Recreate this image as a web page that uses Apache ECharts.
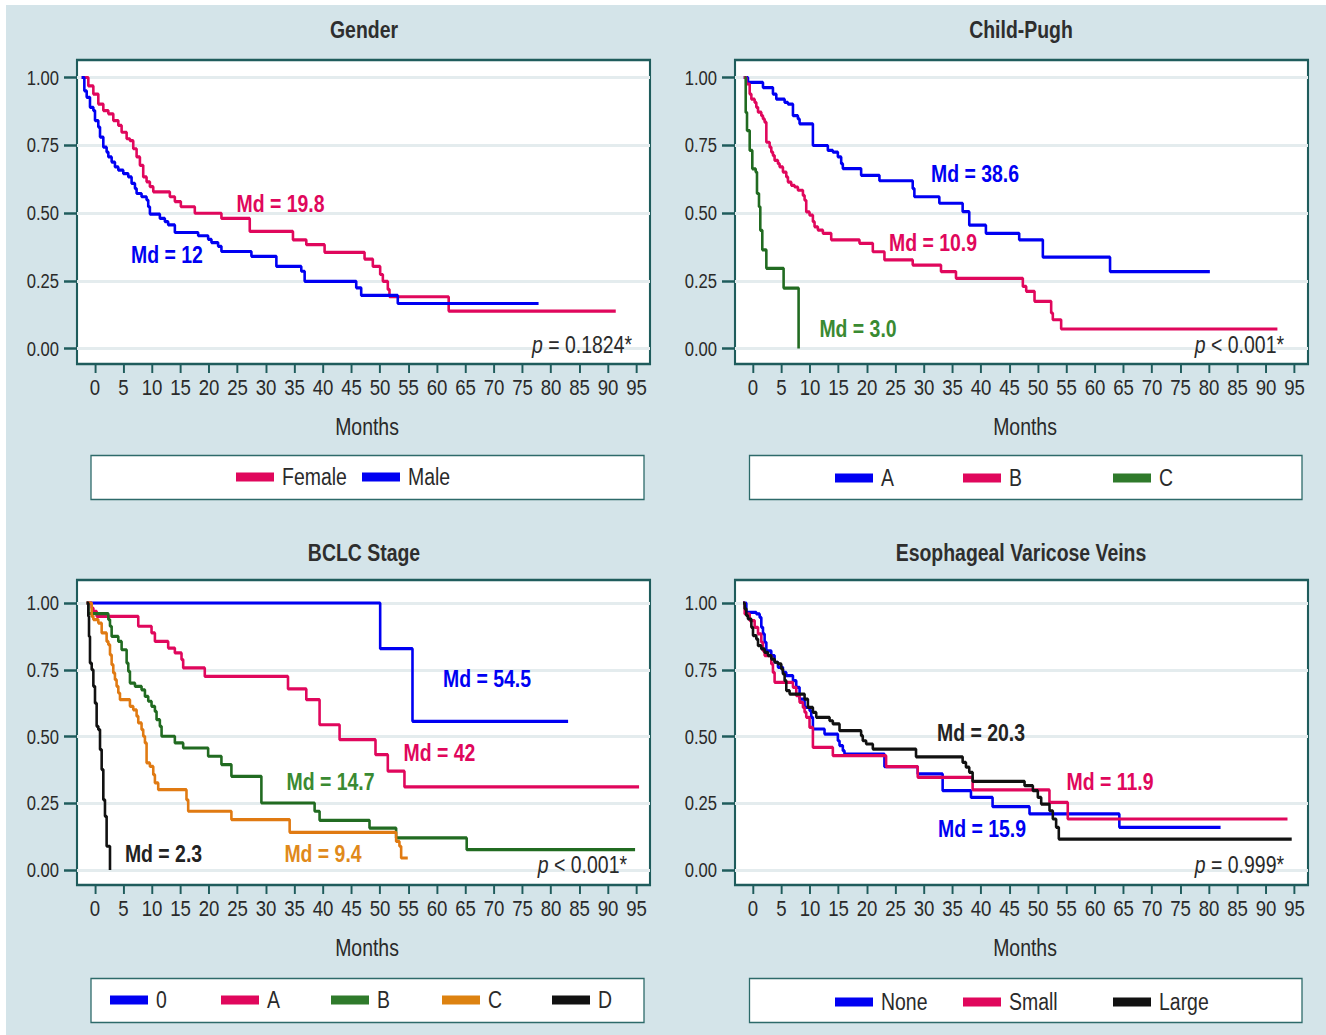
<!DOCTYPE html>
<html><head><meta charset="utf-8">
<script src="https://cdn.jsdelivr.net/npm/echarts@6/dist/echarts.min.js"></script>
<style>
html,body{margin:0;padding:0;background:#fff;overflow:hidden}
#wrap{width:1326px;height:1035px;overflow:hidden;position:relative}
#c{height:1035px;transform-origin:0 0;position:absolute;left:0;top:0}
</style>
</head><body><div id="wrap"><div id="c"></div></div>
<script>
// ---------- tick labels ----------
const xTicks = [0,5,10,15,20,25,30,35,40,45,50,55,60,65,70,75,80,85,90,95];
const yTicks = [0,0.25,0.5,0.75,1];
const xAxisName = 'Months';

// ---------- Gender ----------
const femaleT = [-2.34,-1.17,-0.29,0.58,1.46,2.34,3.21,4.09,4.67,5.55,6.13,6.71,7.30,7.88,8.46,9.05,9.63,10.22,13.13,14.01,15.06,17.51,22.18,27.15,34.73,37.07,40.28,47.29,48.74,50.03,50.50,51.37,51.66,62.05,91.36];
const femaleS = [1.000,0.969,0.939,0.902,0.878,0.866,0.841,0.823,0.798,0.774,0.767,0.737,0.707,0.676,0.633,0.615,0.597,0.578,0.560,0.542,0.523,0.499,0.480,0.432,0.401,0.383,0.355,0.330,0.303,0.273,0.248,0.218,0.191,0.138,0.138];
const maleT = [-2.34,-1.87,-1.46,-0.88,-0.29,0,0.58,0.88,1.46,2.04,2.34,2.92,3.50,4.09,4.96,5.84,6.42,7.01,7.30,8.17,9.05,9.34,9.63,11.38,12.26,12.84,14.01,18.10,19.85,20.43,21.60,22.18,27.44,31.82,36.19,36.78,45.83,46.70,53.12,77.82];
const maleS = [1,0.951,0.927,0.890,0.878,0.841,0.817,0.780,0.743,0.725,0.707,0.688,0.670,0.658,0.645,0.633,0.609,0.590,0.572,0.560,0.548,0.523,0.496,0.480,0.468,0.456,0.428,0.416,0.403,0.391,0.377,0.358,0.340,0.303,0.285,0.248,0.224,0.196,0.166,0.166];

// ---------- Child-Pugh ----------
const cpAT = [-1.63,-0.88,1.75,3.50,4.09,5.55,6.13,7.01,7.88,8.17,10.51,13.13,14.01,14.89,15.47,15.76,18.97,22.18,28.02,28.31,32.69,36.78,37.94,40.86,46.70,50.85,62.64,80.15];
const cpAS = [1,0.982,0.963,0.939,0.920,0.908,0.902,0.859,0.847,0.829,0.749,0.731,0.725,0.707,0.682,0.664,0.639,0.619,0.590,0.560,0.536,0.505,0.455,0.425,0.401,0.337,0.284,0.284];
const cpBT = [-1.63,-1.17,-0.58,-0.29,0.29,0.58,0.88,1.46,1.75,2.04,2.34,2.92,3.21,3.50,3.79,4.38,4.67,5.25,5.84,6.13,6.71,7.30,7.88,8.76,9.05,9.34,9.92,10.51,10.80,11.38,12.26,13.72,18.68,21.02,23.06,28.02,32.98,35.61,47.34,47.93,49.39,52.31,52.60,54.06,92.0];
const cpBS = [1,0.976,0.939,0.920,0.908,0.890,0.872,0.859,0.847,0.835,0.761,0.743,0.725,0.712,0.694,0.682,0.670,0.651,0.633,0.614,0.602,0.596,0.584,0.565,0.547,0.504,0.492,0.468,0.449,0.437,0.425,0.401,0.388,0.357,0.327,0.308,0.284,0.259,0.229,0.211,0.174,0.131,0.106,0.072,0.072];
const cpCT = [-1.46,-1.28,-1.05,-0.58,-0.12,0.47,0.70,1.05,1.28,1.63,2.34,5.37,8.00];
const cpCS = [1,0.871,0.804,0.731,0.663,0.651,0.572,0.523,0.436,0.364,0.296,0.223,0];

// ---------- BCLC Stage ----------
const bc0T = [-1.46,50.03,55.70,83.0];
const bc0S = [1,0.829,0.557,0.557];
const bcAT = [-1.46,-0.58,-0.29,0.29,7.59,9.92,10.51,12.84,14.01,15.18,15.47,19.26,33.86,37.07,39.40,42.91,49.21,51.37,54.29,95.45];
const bcAS = [1,0.981,0.969,0.950,0.913,0.888,0.856,0.831,0.813,0.788,0.757,0.725,0.678,0.638,0.544,0.488,0.432,0.370,0.311,0.311];
const bcBT = [-1.46,-1.17,2.34,2.63,2.92,4.09,4.67,5.55,5.84,6.13,7.01,8.17,8.76,9.34,9.92,10.51,10.80,11.38,11.68,14.01,15.47,19.85,22.18,23.93,29.19,38.53,39.40,48.16,52.83,65.21,94.75];
const bcBS = [1,0.960,0.938,0.913,0.875,0.856,0.825,0.775,0.744,0.700,0.688,0.675,0.650,0.632,0.613,0.594,0.563,0.538,0.501,0.476,0.457,0.426,0.395,0.351,0.251,0.220,0.186,0.157,0.120,0.076,0.076];
const bcCT = [-1.46,-0.58,-0.29,0.58,1.17,2.04,2.34,2.63,2.92,3.21,3.50,3.79,4.09,4.38,6.13,6.71,7.30,7.59,8.17,8.46,8.76,9.05,9.63,10.22,10.51,11.09,16.05,16.35,23.93,34.15,52.83,53.41,53.71,54.87];
const bcCS = [1,0.950,0.938,0.925,0.888,0.856,0.844,0.806,0.769,0.738,0.713,0.688,0.663,0.638,0.613,0.600,0.576,0.551,0.526,0.501,0.476,0.401,0.388,0.357,0.326,0.301,0.263,0.220,0.189,0.141,0.107,0.089,0.045,0.045];
const bcDT = [-1.46,-1.17,-1.05,-0.88,-0.58,-0.29,0,0.29,0.58,0.88,1.17,1.46,1.75,2.04,2.63];
const bcDS = [1,0.950,0.875,0.775,0.750,0.688,0.625,0.538,0.526,0.451,0.376,0.263,0.201,0.089,0];

// ---------- Esophageal Varicose Veins ----------
const evNoneT = [-1.75,-1.17,0.58,1.17,1.46,1.75,2.04,2.34,3.21,3.79,4.38,5.25,5.84,7.01,7.59,8.17,9.05,9.92,10.22,10.51,12.55,14.89,15.18,15.76,16.05,23.06,28.90,33.27,38.24,42.03,48.51,64.27,82.03];
const evNoneS = [1,0.965,0.959,0.946,0.909,0.884,0.853,0.821,0.803,0.778,0.759,0.740,0.728,0.709,0.684,0.640,0.609,0.597,0.572,0.528,0.509,0.484,0.466,0.447,0.434,0.387,0.360,0.297,0.272,0.237,0.210,0.160,0.160];
const evSmallT = [-1.75,-1.46,-0.58,0.29,0.88,1.46,1.75,2.04,3.21,3.50,3.79,7.01,7.59,8.17,8.76,9.05,9.34,9.92,10.51,14.01,23.35,28.90,38.53,52.01,55.22,93.77];
const evSmallS = [1,0.959,0.934,0.909,0.884,0.853,0.821,0.803,0.772,0.740,0.703,0.684,0.653,0.628,0.609,0.591,0.572,0.534,0.459,0.428,0.387,0.347,0.300,0.253,0.191,0.191];
const evLargeT = [-1.75,-1.46,-1.17,-0.88,-0.29,0,0.58,0.88,1.46,2.04,2.63,3.21,3.79,4.38,4.96,5.25,5.55,5.84,6.42,9.05,9.63,10.51,11.09,13.43,14.01,15.18,18.97,19.26,19.85,21.02,28.60,36.78,37.36,37.94,38.53,47.64,49.10,49.97,50.56,52.02,52.60,53.18,53.65,94.51];
const evLargeS = [1,0.978,0.953,0.940,0.909,0.878,0.865,0.840,0.828,0.815,0.803,0.790,0.778,0.772,0.753,0.734,0.709,0.672,0.659,0.640,0.609,0.590,0.572,0.559,0.547,0.522,0.503,0.484,0.472,0.453,0.424,0.403,0.385,0.366,0.332,0.316,0.297,0.272,0.247,0.222,0.191,0.160,0.116,0.116];

// ---------- annotation texts ----------
const titles = ['Gender','Child-Pugh','BCLC Stage','Esophageal Varicose Veins'];
const pTexts = ['= 0.1824*','< 0.001*','< 0.001*','= 0.999*'];

// ---------- styles ----------
// The whole chart is drawn wider and squeezed horizontally (narrow, tall lettering like the reference).
const SX = 0.81;
const X = v => v / SX;
const W = 1326, H = 1035;
const FONT = '"Liberation Sans", Arial, Helvetica, sans-serif';
const RED = '#e0075c', BLUE = '#0000f2', GREEN = '#216b21', ORANGE = '#e07a12', BLACK = '#111111';
const TEAL = '#1f5c5c', TXT = '#2a2a2a', BG = '#d4e4e9';

const zip = (t, s) => t.map((x, i) => [x, s[i]]);

const panels = [
  { title: titles[0], cx: 364, ty: 30, left: 77, top: 60, height: 304, y1: 77.5, y0: 348.5,
    curves: [
      { key: 'Female', label: 'Female', t: femaleT, s: femaleS, color: RED, lx: 236 },
      { key: 'Male', label: 'Male', t: maleT, s: maleS, color: BLUE, lx: 362 }],
    legendBox: [91, 455.5, 553, 44], legendY: 477,
    notes: [['Md = 19.8', RED, 280.5, 203.5], ['Md = 12', BLUE, 167, 254.5]],
    p: [pTexts[0], 632, 345] },
  { title: titles[1], cx: 1021, ty: 30, left: 735, top: 60, height: 304, y1: 77.5, y0: 348.5,
    curves: [
      { key: 'CP A', label: 'A', t: cpAT, s: cpAS, color: BLUE, lx: 835 },
      { key: 'CP B', label: 'B', t: cpBT, s: cpBS, color: RED, lx: 963 },
      { key: 'CP C', label: 'C', t: cpCT, s: cpCS, color: GREEN, lx: 1113, lcolor: '#2f7a2b' }],
    legendBox: [749.5, 455.5, 552.5, 44], legendY: 478,
    notes: [['Md = 38.6', BLUE, 975, 173.5], ['Md = 10.9', RED, 933, 243], ['Md = 3.0', '#3a8a32', 858, 328.5]],
    p: [pTexts[1], 1284, 345] },
  { title: titles[2], cx: 364, ty: 553, left: 77, top: 580, height: 305, y1: 603, y0: 870,
    curves: [
      { key: 'BCLC 0', label: '0', t: bc0T, s: bc0S, color: BLUE, lx: 110 },
      { key: 'BCLC A', label: 'A', t: bcAT, s: bcAS, color: RED, lx: 221 },
      { key: 'BCLC B', label: 'B', t: bcBT, s: bcBS, color: GREEN, lx: 331, lcolor: '#2f7a2b' },
      { key: 'BCLC C', label: 'C', t: bcCT, s: bcCS, color: ORANGE, lx: 442, lcolor: '#dd8210' },
      { key: 'BCLC D', label: 'D', t: bcDT, s: bcDS, color: BLACK, lx: 552 }],
    legendBox: [91, 978.5, 553, 44], legendY: 1000,
    notes: [['Md = 54.5', BLUE, 487, 678.5], ['Md = 42', RED, 439.5, 753], ['Md = 14.7', '#3a8a32', 330.5, 781.5],
            ['Md = 9.4', '#e0891a', 323, 854], ['Md = 2.3', '#222', 163.5, 854]],
    p: [pTexts[2], 627, 865] },
  { title: titles[3], cx: 1021, ty: 553, left: 735, top: 580, height: 305, y1: 603, y0: 870,
    curves: [
      { key: 'EV None', label: 'None', t: evNoneT, s: evNoneS, color: BLUE, lx: 835 },
      { key: 'EV Small', label: 'Small', t: evSmallT, s: evSmallS, color: RED, lx: 963 },
      { key: 'EV Large', label: 'Large', t: evLargeT, s: evLargeS, color: BLACK, lx: 1113 }],
    legendBox: [749.5, 978.5, 552.5, 44], legendY: 1002,
    notes: [['Md = 20.3', '#222', 981, 733], ['Md = 11.9', RED, 1110, 782], ['Md = 15.9', BLUE, 982, 828.5]],
    p: [pTexts[3], 1284, 865] }
];

const GW = 573, X0PX = 95 - 77; // month 0 sits 18px right of the box edge
const PXM = 5.70;
const xMin = -X0PX / PXM, xMax = xMin + GW / PXM;

const grid = [], xAxis = [], yAxis = [], series = [], legend = [];
const graphic = [
  { type: 'rect', shape: { x: X(6), y: 5, width: X(1320), height: 1030 }, style: { fill: BG }, z: -10, silent: true }
];

panels.forEach((p, gi) => {
  const ppu = p.y0 - p.y1;
  const ymax = 1 + (p.y1 - p.top) / ppu;
  const ymin = -((p.top + p.height) - p.y0) / ppu;
  grid.push({ left: X(p.left), top: p.top, width: X(GW), height: p.height, show: true,
    backgroundColor: '#ffffff', borderColor: TEAL, borderWidth: 2.6, containLabel: false });
  xAxis.push({ type: 'value', gridIndex: gi, min: xMin, max: xMax, position: 'bottom',
    axisLine: { show: false, onZero: false },
    axisTick: { show: true, inside: false, length: 9, customValues: xTicks, lineStyle: { color: TEAL, width: 2.4 } },
    axisLabel: { customValues: xTicks, margin: 11.5, fontSize: 23, fontFamily: FONT, color: TXT },
    splitLine: { show: false },
    name: xAxisName, nameLocation: 'middle', nameGap: 51,
    nameTextStyle: { fontSize: 24, fontFamily: FONT, color: TXT, padding: [0, 0, 0, X(7)] } });
  yAxis.push({ type: 'value', gridIndex: gi, min: ymin, max: ymax, position: 'left',
    axisLine: { show: false, onZero: false },
    axisTick: { show: true, inside: false, length: X(13), customValues: yTicks, lineStyle: { color: TEAL, width: 2.5 } },
    axisLabel: { customValues: yTicks, margin: X(18), fontSize: 20.5, fontFamily: FONT, color: TXT,
      formatter: v => v.toFixed(2) },
    splitLine: { show: false } });
  // horizontal reference lines at the y ticks
  series.push({ type: 'line', xAxisIndex: gi, yAxisIndex: gi, data: [], z: 1, silent: true,
    markLine: { z: 1, silent: true, symbol: 'none', label: { show: false }, animation: false,
      lineStyle: { color: '#e4ecee', width: 3, type: 'solid' },
      data: yTicks.map(v => ({ yAxis: v })) } });
  p.curves.forEach((c, ci) => {
    series.push({ name: c.key, type: 'line', xAxisIndex: gi, yAxisIndex: gi, step: 'end',
      showSymbol: false, symbol: 'none', z: 3 + ci, color: c.color,
      lineStyle: { color: c.color, width: 3.2 }, data: zip(c.t, c.s) });
    legend.push({ data: [{ name: c.key, itemStyle: { color: c.lcolor || c.color } }],
      left: X(c.lx), top: p.legendY - 12, padding: 0, icon: 'rect', itemWidth: X(38), itemHeight: 9,
      selectedMode: false, formatter: () => c.label,
      textStyle: { fontSize: 24, lineHeight: 24, fontFamily: FONT, color: TXT, padding: [0, 0, 0, X(4)] } });
  });
  // panel title
  graphic.push({ type: 'text', x: X(p.cx), y: p.ty, silent: true,
    style: { text: p.title, fontSize: 24, fontWeight: 'bold', fontFamily: FONT, fill: '#2e2e2e',
      align: 'center', verticalAlign: 'middle' } });
  // legend frame
  const b = p.legendBox;
  graphic.push({ type: 'rect', shape: { x: X(b[0]), y: b[1], width: X(b[2]), height: b[3] }, z: -5, silent: true,
    style: { fill: '#ffffff', stroke: '#2d6a6a', lineWidth: 1.6 } });
  // median labels
  p.notes.forEach(n => graphic.push({ type: 'text', x: X(n[2]), y: n[3], silent: true, z: 50,
    style: { text: n[0], fill: n[1], fontSize: 24, fontWeight: 'bold', fontFamily: FONT,
      align: 'center', verticalAlign: 'middle' } }));
  // p value
  graphic.push({ type: 'text', x: X(p.p[1]), y: p.p[2], silent: true, z: 50,
    style: { text: '{i|p} ' + p.p[0], fill: TXT, fontSize: 24, fontFamily: FONT,
      align: 'right', verticalAlign: 'middle',
      rich: { i: { fontStyle: 'italic', fontSize: 24, fontFamily: FONT, fill: TXT } } } });
});

const el = document.getElementById('c');
el.style.width = X(W) + 'px';
el.style.transform = 'scaleX(' + SX + ')';
const chart = echarts.init(el, null, { renderer: 'svg', width: X(W), height: H });
chart.setOption({ animation: false, backgroundColor: '#ffffff', grid, xAxis, yAxis, series, legend, graphic });
</script></body></html>
